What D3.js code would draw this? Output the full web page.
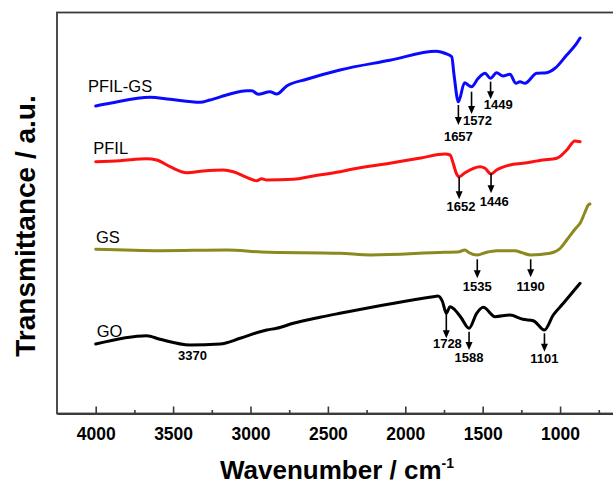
<!DOCTYPE html>
<html><head><meta charset="utf-8">
<script src="https://cdn.jsdelivr.net/npm/d3@7"></script>
<style>
html,body{margin:0;padding:0;background:#fff;}
svg{display:block;font-family:"Liberation Sans",Arial,sans-serif;}
</style></head>
<body>
<svg id="chart" width="613" height="485"></svg>
<script>
// ---- data: [wavenumber cm-1, transmittance a.u. (offset-stacked)] ----
const pfilgs = [[4000,307.5],[3908,310.2],[3649,316.2],[3520,314.2],[3326,311.2],[3262,313.5],[3132,319.5],[3024,322.8],[2992,322.8],[2950,319.2],[2874,321.8],[2831,319.5],[2766,327.5],[2637,334.2],[2422,343.5],[2100,353.2],[1800,362.3],[1776,361.8],[1740,360],[1700,356.8],[1685,338.5],[1657,311.8],[1617,330.8],[1590,328],[1572,326.8],[1530,335],[1485,340.2],[1449,335.2],[1410,340.8],[1369,337.5],[1324,339.2],[1285,330.2],[1259,331.8],[1227,330.2],[1151,340.2],[1087,340.8],[1033,345.2],[957,358.5],[893,370.2],[871,375.5]];
const pfil = [[4000,251.8],[3843,252.8],[3671,254.8],[3606,253.5],[3520,246.8],[3412,240.8],[3305,242.5],[3176,243.5],[3111,241.8],[3025,236.2],[2960,232.8],[2928,234.8],[2895,233.5],[2723,234.2],[2594,237.5],[2422,241.8],[2347,244.2],[2100,250.2],[1900,255.5],[1744,259.5],[1711,258.5],[1690,250],[1670,240],[1652,236.8],[1614,240.8],[1517,246.8],[1485,245.2],[1446,239.5],[1410,243.5],[1324,248.5],[1240,250.2],[1111,253.5],[1022,255.2],[957,263.5],[904,272.5],[871,271.8]];
const gs = [[4000,164.2],[3580,162.8],[3150,163.5],[2930,161.5],[2422,160.2],[2222,158.5],[1744,161.2],[1660,161.5],[1614,163.5],[1590,161],[1535,158.5],[1480,161],[1410,162.8],[1291,162.8],[1250,161],[1190,158.5],[1065,160.2],[1000,165],[957,173.5],[900,185],[871,190.2],[840,201],[818,208.5],[807,209.5]];
const go = [[4000,69.5],[3671,77.8],[3585,74.2],[3391,68.5],[3197,69.5],[3067,75.2],[2938,81.8],[2895,83.5],[2831,85.2],[2723,90.2],[2551,96.2],[2422,100.2],[1821,116.8],[1789,117.5],[1760,112],[1735,100.2],[1711,106.8],[1679,103.5],[1640,96],[1588,85.2],[1539,100.2],[1496,106.2],[1420,96.8],[1324,98.5],[1240,94.2],[1173,92.8],[1101,83.5],[1044,98.5],[979,110.2],[871,130.2]];

const seriesNames = ["PFIL-GS","PFIL","GS","GO"];
const seriesData = [pfilgs, pfil, gs, go];
const seriesColors = ["#0a0aff","#ff1010","#8a8a1e","#000000"];
// series name label anchor [wavenumber, value]
const seriesLabelPos = [[4050,321.8],[4016,259.5],[3998,170.8],[3994,76.8]];

// peak annotations: [wavenumber, arrowTop, arrowBottom, labelWn, labelBaseline, text]
const peaks = [
  [1657,308.5,288.5,1657,272.5,"1657"],
  [1572,321.8,299.5,1533,288.5,"1572"],
  [1449,331.8,314.2,1399,305,"1449"],
  [1652,236.8,214.2,1640,202.5,"1652"],
  [1446,240.2,220.2,1425,207.5,"1446"],
  [1535,154.2,135.2,1535,123,"1535"],
  [1190,154.2,136.2,1190,123,"1190"],
  [1735,103.5,75.2,1728,65.2,"1728"],
  [1588,81.8,63.5,1588,51.8,"1588"],
  [1101,80.2,61.8,1101,50.2,"1101"]
];
const freeLabels = [[3375,53.5,"3370"]];

const majorTicks = [4000,3500,3000,2500,2000,1500,1000];
const minorTicks = [3750,3250,2750,2250,1750,1250,750];
const xTitle = "Wavenumber / cm";
const yTitle = "Transmittance / a.u.";

// ---- drawing ----
const svg = d3.select("#chart");
const L = 57, R = 622, T = 12.5, B = 413.5;
const x = d3.scaleLinear().domain([4250, 600]).range([L, R]);
const y = d3.scaleLinear().domain([0, 400]).range([B, B - 400]);

// frame
svg.append("rect").attr("x", L).attr("y", T).attr("width", R - L).attr("height", B - T)
  .attr("fill", "none").attr("stroke", "#3a3a3a").attr("stroke-width", 1.8);

// x axis
const ax = svg.append("g").attr("transform", `translate(0,${B})`)
  .call(d3.axisBottom(x).tickValues(majorTicks).tickSize(-7).tickSizeOuter(0).tickPadding(14).tickFormat(d3.format("d")));
ax.select(".domain").attr("stroke", "#3a3a3a").attr("stroke-width", 1.8);
ax.selectAll(".tick line").attr("stroke", "#3a3a3a").attr("stroke-width", 1.6);
ax.selectAll(".tick text").attr("font-size", 17.5).attr("font-weight", "bold").attr("fill", "#000")
  .attr("font-family", "'Liberation Sans', Arial, sans-serif");
const axm = svg.append("g").attr("transform", `translate(0,${B})`)
  .call(d3.axisBottom(x).tickValues(minorTicks).tickSize(-3.5).tickSizeOuter(0).tickFormat(""));
axm.select(".domain").remove();
axm.selectAll(".tick line").attr("stroke", "#3a3a3a").attr("stroke-width", 1.6);

// titles
const xt = svg.append("text").attr("x", 337).attr("y", 479).attr("text-anchor", "middle")
  .attr("font-size", 26).attr("font-weight", "bold").attr("fill", "#000");
xt.append("tspan").text(xTitle);
xt.append("tspan").attr("font-size", 14).attr("dy", -11).text("-1");
svg.append("text").attr("transform", "translate(35,226) rotate(-90)").attr("text-anchor", "middle")
  .attr("font-size", 28).attr("font-weight", "bold").attr("fill", "#000").text(yTitle);

// lines
const line = d3.line().x(d => x(d[0])).y(d => y(d[1])).curve(d3.curveMonotoneX);
seriesData.forEach((s, i) => {
  svg.append("path").datum(s).attr("d", line).attr("fill", "none")
    .attr("stroke", seriesColors[i]).attr("stroke-width", 3)
    .attr("stroke-linejoin", "round").attr("stroke-linecap", "round");
  svg.append("text").attr("x", x(seriesLabelPos[i][0])).attr("y", y(seriesLabelPos[i][1]))
    .attr("font-size", 16.5).attr("fill", "#000").text(seriesNames[i]);
});

// arrows
peaks.forEach(p => {
  const px = x(p[0]), y1 = y(p[1]), y2 = y(p[2]);
  svg.append("line").attr("x1", px).attr("x2", px).attr("y1", y1).attr("y2", y2 - 7)
    .attr("stroke", "#000").attr("stroke-width", 1.6);
  svg.append("path").attr("d", `M${px - 3.5},${y2 - 8} L${px + 3.5},${y2 - 8} L${px},${y2} Z`).attr("fill", "#000");
  svg.append("text").attr("x", x(p[3])).attr("y", y(p[4])).attr("text-anchor", "middle")
    .attr("font-size", 13).attr("font-weight", "bold").attr("fill", "#000").text(p[5]);
});
freeLabels.forEach(f => {
  svg.append("text").attr("x", x(f[0])).attr("y", y(f[1])).attr("text-anchor", "middle")
    .attr("font-size", 13).attr("font-weight", "bold").attr("fill", "#000").text(f[2]);
});
</script>
</body></html>
